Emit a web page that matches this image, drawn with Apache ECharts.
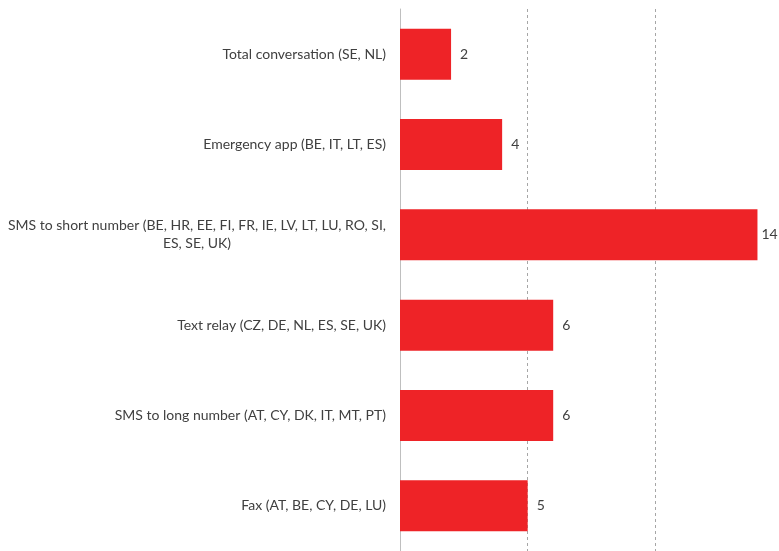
<!DOCTYPE html>
<html><head><meta charset="utf-8">
<script src="https://cdn.jsdelivr.net/npm/echarts@6/dist/echarts.min.js"></script>
<style>html,body{margin:0;padding:0;background:#fff}#c{width:779px;height:551px}</style>
</head><body><div id="c"></div>
<script>
const categories = [
  "Total conversation (SE, NL)",
  "Emergency app (BE, IT, LT, ES)",
  "SMS to short number (BE, HR, EE, FI, FR, IE, LV, LT, LU, RO, SI, ES, SE, UK)",
  "Text relay (CZ, DE, NL, ES, SE, UK)",
  "SMS to long number (AT, CY, DK, IT, MT, PT)",
  "Fax (AT, BE, CY, DE, LU)"
];
const values = [2, 4, 14, 6, 6, 5];

function wrap(s) {
  const maxLen = 66;
  if (s.length <= maxLen) return [s];
  let idx = s.lastIndexOf(', ', maxLen);
  return [s.slice(0, idx + 1), s.slice(idx + 2)];
}

const seriesData = values.map(v => v >= 10 ? { value: v, label: { distance: 4 } } : v);

const chart = echarts.init(document.getElementById('c'));
const font = 'Lato';
chart.setOption({
  animation: false,
  grid: { left: 400, top: 9, width: 383, bottom: 0, containLabel: false, outerBoundsMode: 'none' },
  xAxis: {
    type: 'value', min: 0, max: 15, interval: 5,
    axisLabel: { show: false }, axisLine: { show: false }, axisTick: { show: false },
    splitLine: { show: true, lineStyle: { color: '#a6a6a6', type: [3, 3], width: 1 } }
  },
  yAxis: {
    type: 'category', data: categories, inverse: true,
    axisTick: { show: false },
    axisLine: { show: true, lineStyle: { color: '#bfbfbf', width: 1 } },
    axisLabel: {
      margin: 14,
      formatter: function (v) { return wrap(v).map(l => '{c|' + l + '}').join('\n'); },
      rich: { c: { align: 'center', fontFamily: font, fontSize: 14, color: '#404040', lineHeight: 18 } }
    }
  },
  series: [{
    type: 'bar', data: seriesData, barWidth: 51,
    itemStyle: { color: '#ee2327' },
    label: { show: true, position: 'right', distance: 9, fontFamily: font, fontSize: 14, color: '#404040' }
  }]
});
</script></body></html>
